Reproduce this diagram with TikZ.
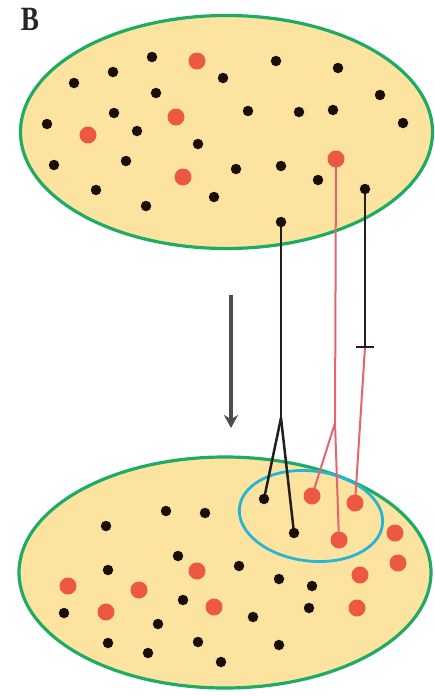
\documentclass[tikz,border=0pt]{standalone}
\usepackage{fontspec}
\newfontfamily\labfont{Liberation Serif}
\usetikzlibrary{arrows.meta}
\definecolor{fillY}{RGB}{253,227,160}
\definecolor{edgeG}{RGB}{30,172,100}
\definecolor{edgeC}{RGB}{40,180,210}
\definecolor{dotR}{RGB}{236,88,66}
\definecolor{lineR}{RGB}{230,100,110}
\definecolor{dotK}{RGB}{25,15,8}
\definecolor{lineK}{RGB}{35,30,30}
\tikzset{
  pool/.style={draw=edgeG, line width=3.2pt, fill=fillY},
  cluster/.style={draw=edgeC, line width=2.8pt},
  kd/.style={circle, fill=dotK, inner sep=0pt, minimum size=10.5pt},
  rd/.style={circle, fill=dotR, inner sep=0pt, minimum size=17pt},
  kline/.style={draw=lineK, line width=2.5pt},
  rline/.style={draw=lineR, line width=2pt},
}
\begin{document}
\begin{tikzpicture}[x=1pt,y=-1pt]
\useasboundingbox (0,0) rectangle (435,696);
\fill[white] (0,0) rectangle (435,696);
\node[text=black!85] (lab) at (30,19) {\scalebox{0.8}[1]{\labfont\fontsize{34}{35}\selectfont\bfseries B}};
% pools
\draw[pool] (226.5,132) ellipse [x radius=206, y radius=116.5];
\draw[pool] (225,572.5) ellipse [x radius=206, y radius=115.5];
\draw[cluster, rotate around={-7:(311,516)}] (311,516) ellipse [x radius=72, y radius=45];
% named coordinates for connected items
\coordinate (tK1) at (281,222);
\coordinate (tR1) at (336,159);
\coordinate (tK2) at (365,189);
\coordinate (bK1) at (264,499);
\coordinate (bK2) at (294,533);
\coordinate (bR1) at (312,496);
\coordinate (bR2) at (339,540);
\coordinate (bR3) at (355,503);
\coordinate (fk) at (281,418);
\coordinate (fr) at (335,423);
\coordinate (tick) at (365,347);
\coordinate (tickL) at (356,347);
\coordinate (tickR) at (374,347);
\coordinate (arA) at (231,295);
\coordinate (arB) at (231,428);
% connectors
\draw[kline] (tK1) -- (fk);
\draw[kline] (fk) -- (bK1);
\draw[kline] (fk) -- (bK2);
\draw[rline] (tR1) -- (fr) -- (bR2);
\draw[rline] (fr) -- (bR1);
\draw[kline] (tK2) -- (tick);
\draw[rline] (tick) -- (bR3);
\draw[kline] (tickL) -- (tickR);
\draw[draw=black!70, line width=3.2pt, -{Stealth[length=13pt,width=14pt]}] (arA) -- (arB);
% top pool dots
\foreach \p in {(152,57),(113,72),(74,83),(223,78),(156,93),(276,61),(338,68),(380,95),(403,123),(114,113),(47,124),(137,131),(248,111),(299,112),(333,110),(198,144),(54,165),(126,161),(236,169),(281,166),(318,180),(96,190),(214,197),(146,206)}
  \node[kd] at \p {};
\foreach \p in {(197,61),(176,117),(88,135),(183,177)}
  \node[rd] at \p {};
\node[kd] (nK1) at (tK1) {};
\node[kd] (nK2) at (tK2) {};
\node[rd] (nR1) at (tR1) {};
% bottom pool dots
\foreach \p in {(166,511),(205,513),(106,526),(178,556),(239,566),(108,570),(279,579),(312,586),(183,600),(309,608),(64,613),(158,624),(253,617),(108,643),(198,642),(279,645),(148,653),(221,662)}
  \node[kd] at \p {};
\foreach \p in {(395,533),(398,563),(360,575),(357,608),(197,571),(68,586),(139,590),(214,607),(106,612)}
  \node[rd] at \p {};
\node[kd] (mK1) at (bK1) {};
\node[kd] (mK2) at (bK2) {};
\node[rd] (mR1) at (bR1) {};
\node[rd] (mR2) at (bR2) {};
\node[rd] (mR3) at (bR3) {};
\end{tikzpicture}
\end{document}
